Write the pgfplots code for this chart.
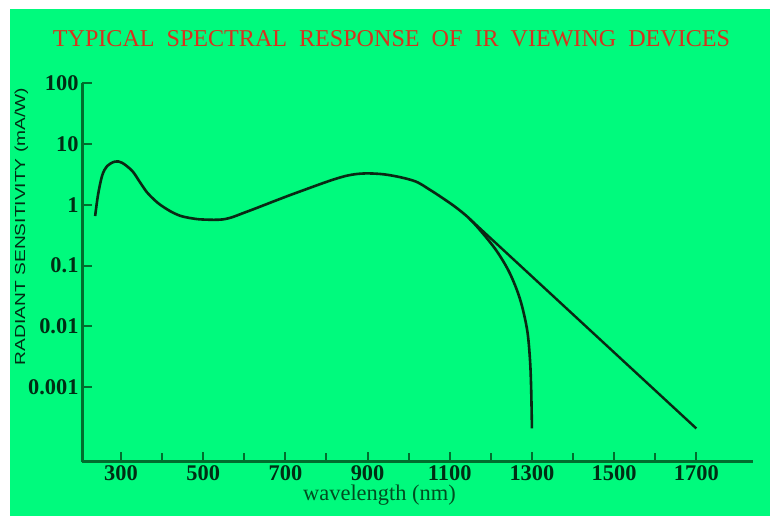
\documentclass[border=0pt]{standalone}
\usepackage{fontspec}
\setmainfont{Liberation Serif}
\newfontfamily\arialf{Liberation Sans}
\usepackage{pgfplots}
\pgfplotsset{compat=1.18}
\definecolor{bg}{RGB}{0,250,125}
\definecolor{axg}{RGB}{0,110,45}
\definecolor{crv}{RGB}{10,40,20}
\definecolor{ttl}{RGB}{215,50,30}
\definecolor{lbl}{RGB}{0,45,20}
\begin{document}
\begin{tikzpicture}[x=1bp,y=1bp]
\path[use as bounding box] (0,0) rectangle (770,516);
\fill[white] (0,0) rectangle (770,516);
\fill[bg] (10,0) rectangle (770,507);
\begin{axis}[
  at={(82bp,54bp)}, anchor=south west, scale only axis,
  width=671bp, height=379bp,
  ymode=log, xmin=205, xmax=1838, ymin=5.9e-5, ymax=100,
  axis lines*=left,
  axis line style={axg, line width=3bp},
  xtick={300,500,...,1700},
  xticklabels={300,500,700,900,1100,1300,1500,1700},
  minor xtick={400,600,...,1600},
  ytick={0.001,0.01,0.1,1,10,100},
  yticklabels={0.001,0.01,0.1,1,10,100},
  yminorticks=false,
  tick align=inside, major tick length=10bp, minor tick length=9bp,
  tick style={axg, line width=2bp},
  ticklabel style={font=\fontsize{22.5}{22.5}\selectfont\bfseries, text=lbl},
  clip=false,
]
\addplot[crv, line width=2.6bp, smooth, tension=0.55] coordinates {
(237,0.65) (244,1.45) (254,3.0) (266,4.3) (285,5.1) (302,4.9) (327,3.6)
(345,2.4) (363,1.6) (380,1.22) (395,1.0) (420,0.78) (443,0.66) (470,0.6)
(500,0.57) (553,0.58) (607,0.77)
(728,1.58) (850,3.0) (930,3.2) (1010,2.5) (1052,1.75) (1093,1.15)
(1120,0.85) (1149,0.58) (1180,0.34) (1215,0.17) (1246,0.075) (1271,0.028)
(1288,0.009) (1295,0.003) (1298,0.001) (1300,0.00021)
};
\addplot[crv, line width=2.4bp] coordinates {
(1149,0.58) (1700,0.00021)
};
\end{axis}
\node[text=ttl, anchor=base, inner sep=0] at (391.5,469)
  {\resizebox{677bp}{16bp}{TYPICAL\ \ SPECTRAL\ \ RESPONSE\ \ OF\ \ IR\ \ VIEWING\ \ DEVICES}};
\node[text=axg!70!black, anchor=base west, inner sep=0] at (303,15)
  {\fontsize{22.5}{22.5}\selectfont wavelength (nm)};
\node[text=lbl, anchor=base, rotate=90, inner sep=0] at (25,289.5)
  {\resizebox{277bp}{10.5bp}{\arialf RADIANT SENSITIVITY (mA/W)}};
\end{tikzpicture}
\end{document}
